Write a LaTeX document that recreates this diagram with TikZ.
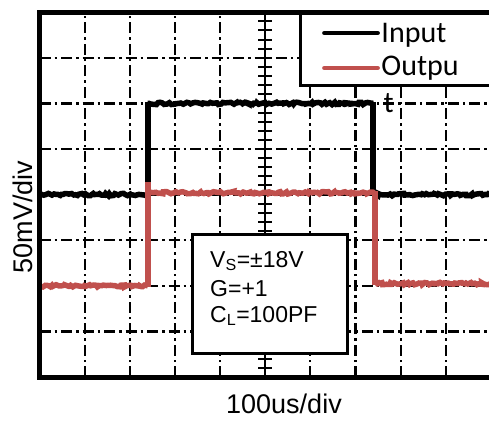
\documentclass[tikz,border=0pt]{standalone}
\usepackage{fontspec}
\setmainfont{Liberation Sans}
\newfontfamily\legendfont{Carlito}
\usetikzlibrary{decorations.pathmorphing}
\definecolor{tred}{RGB}{192,80,77}

\begin{document}
\begin{tikzpicture}[x=45.15pt, y=45.6pt,
    frame/.style={line width=5pt, line cap=rect},
    grid/.style={line width=2.2pt, dash pattern=on 11pt off 4pt on 2.5pt off 4pt},
    axis/.style={line width=2pt},
    trace/.style={line width=5.5pt},
    noisy/.style={decorate, decoration={random steps, segment length=2pt, amplitude=1.2pt}},
    box/.style={draw, fill=white, line width=3pt},
    cond/.style={inner sep=0pt, anchor=base west, font=\fontsize{23}{27}\selectfont},
    legtext/.style={inner sep=0pt, anchor=base west, font=\legendfont\fontsize{30}{36}\selectfont},
    lbl/.style={inner sep=0pt, anchor=base, font=\fontsize{27}{32}\selectfont},
  ]
  \useasboundingbox (-0.875,-0.965) rectangle (9.956,8.268);
  \clip (-0.875,-0.965) rectangle (9.956,8.268);
  \pgfmathsetseed{7}
  % grid
  \foreach \gx in {1,2,3,4,6,7,8,9}
    \draw[grid] (\gx,0) -- (\gx,8);
  \foreach \gy in {1,...,7}
    \draw[grid] (0,\gy) -- (10,\gy);
  % centre axis with minor ticks
  \draw[axis] (5,0) -- (5,8);
  \foreach \ty in {0.2,0.4,...,7.9}
    \draw[axis] (4.845,\ty) -- (5.155,\ty);
  % Input
  \draw[trace, noisy] (0,4) -- (2.4,4);
  \draw[trace] (2.4,3.97) -- (2.4,6.03);
  \draw[trace, noisy] (2.4,6) -- (7.39,6);
  \draw[trace] (7.39,6.03) -- (7.39,3.97);
  \draw[trace, noisy] (7.39,4) -- (10,4);
  % Output
  \draw[trace, tred, noisy] (0,2) -- (2.4,2);
  \draw[trace, tred] (2.4,1.97) -- (2.4,4.27);
  \draw[trace, tred, noisy] (2.4,4.04) -- (7.43,4.04);
  \draw[trace, tred] (7.43,4.07) -- (7.43,2.02);
  \draw[trace, tred, noisy] (7.43,2.05) -- (10,2.05);
  % Legend
  \draw[box] (5.77,6.40) rectangle (10.5,8.0);
  \draw[trace, line width=4.5pt, line cap=round] (6.31,7.544) -- (7.49,7.544);
  \node[legtext] (legin) at (7.57,7.325) {Input};
  \draw[trace, tred, line width=4.5pt, line cap=round] (6.31,6.776) -- (7.49,6.776);
  \node[legtext] (legout) at (7.57,6.623) {Outpu};
  \node[legtext] (legt) at (7.62,5.80) {t};
  % Conditions
  \draw[box] (3.38,0.526) rectangle (6.83,3.136);
  \node[cond] (vs) at (3.776,2.412) {V\textsubscript{S}=±18V};
  \node[cond] (gain) at (3.776,1.776) {G=+1};
  \node[cond] (cl) at (3.776,1.206) {C\textsubscript{L}=100PF};
  % Frame
  \draw[frame] (10.5,8) -- (0,8) -- (0,0) -- (10.5,0);
  % Axis labels
  \node[lbl, rotate=90] (ylab) at (-0.166,3.51) {50mV/div};
  \node[lbl] (xlab) at (5.415,-0.811) {100us/div};
\end{tikzpicture}
\end{document}
